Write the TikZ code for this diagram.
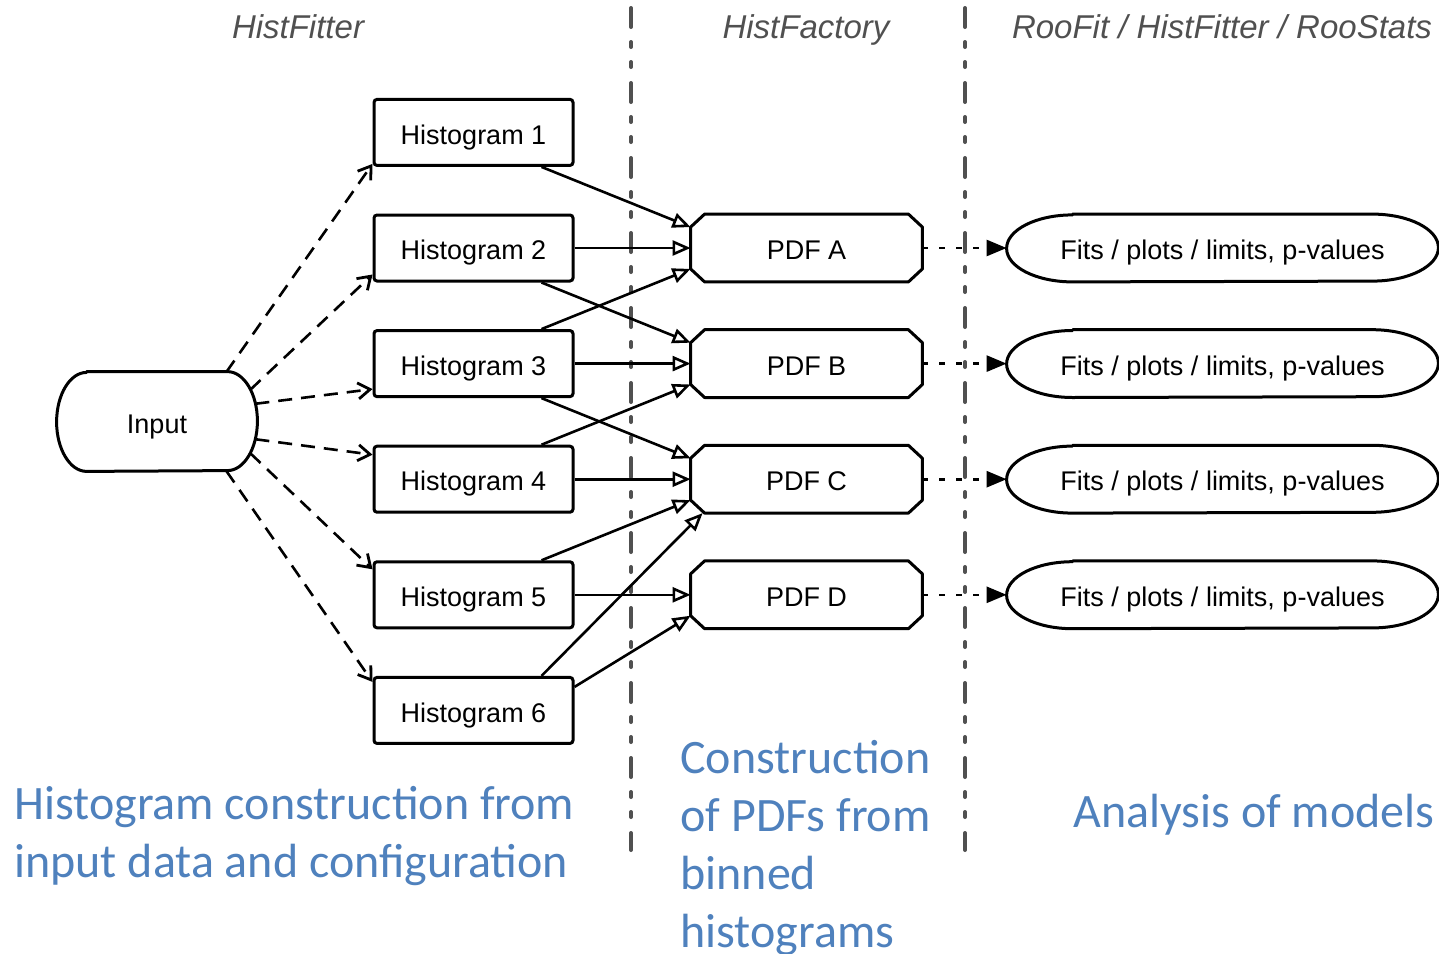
\documentclass[tikz,border=0pt]{standalone}
\usepackage{fontspec}
\setmainfont{Liberation Sans}
\newfontfamily\notefont{Carlito}
\usetikzlibrary{arrows.meta}
\definecolor{notecol}{RGB}{79,129,189}
\definecolor{sepcol}{RGB}{80,80,80}

\begin{document}
\begin{tikzpicture}[x=0.5pt,y=-0.5pt,font=\fontsize{13.5}{16}\selectfont,
  boxtext/.style={inner sep=0pt,text height=11.7pt,text depth=0pt},
  histbox/.style={boxtext,draw,line width=1.5pt,rounded corners=1.5pt,minimum width=99.5pt,minimum height=33pt},
  inbox/.style={boxtext,minimum width=100pt,minimum height=49.5pt},
  pdfbox/.style={boxtext,minimum width=115.5pt,minimum height=33.5pt},
  fitbox/.style={boxtext,minimum width=215.5pt,minimum height=33.5pt},
  outline/.style={line width=1.5pt,line join=round},
  feed/.style={line width=1.3pt,dash pattern=on 7pt off 4.5pt,-{Straight Barb[length=6pt,width=8pt,line width=1.4pt]}},
  build/.style={line width=1.3pt,-{Triangle[open,length=9pt,width=7.5pt]}},
  use/.style={line width=1.3pt,dash pattern=on 3pt off 5.5pt,-{Triangle[length=10pt,width=8pt]}},
  sep/.style={sepcol,line width=2pt,line cap=round,dash pattern=on 9.5pt off 7.5pt on 2.5pt off 7.5pt on 2.5pt off 8pt},
  head/.style={sepcol,font=\fontsize{16.5}{20}\selectfont\itshape,anchor=base},
  note/.style={notecol,font=\notefont\fontsize{24}{29}\selectfont,align=left,inner sep=0pt}]
\pgfmathsetmacro{\pitch}{115.6}
\useasboundingbox (0,0) rectangle (1439,953);

% column separators
\draw[sep] (631,8) -- (631,850);
\draw[sep] (965,8) -- (965,850);

\node[head] (tfit) at (298,38) {HistFitter};
\node[head] (tfac) at (806,38) {HistFactory};
\node[head] (tana) at (1222,38) {RooFit / HistFitter / RooStats};

\node[inbox] (in) at (157,421.5) {Input};
\foreach \i in {1,...,6}
	\node[histbox] (h\i) at (473.5,{132.4+\pitch*(\i-1)}) {Histogram \i};
\foreach \p [count=\k from 0] in {A,B,C,D}
{
	\node[pdfbox] (p\p) at (806.5,{248+\pitch*\k}) {PDF \p};
	\node[fitbox] (f\p) at (1222.5,{248+\pitch*\k}) {Fits / plots / limits, p-values};
}

% outlines of the pills and of the pdf boxes
\foreach \n/\rx/\ry in {in/15pt/24.75pt,fA/33pt/16.75pt,fB/33pt/16.75pt,fC/33pt/16.75pt,fD/33pt/16.75pt}
	\draw[outline] ([xshift=\rx]\n.north west) -- ([xshift=-\rx]\n.north east)
		arc[start angle=90,end angle=-90,x radius=\rx,y radius=\ry]
		-- ([xshift=\rx]\n.south west)
		arc[start angle=270,end angle=90,x radius=\rx,y radius=\ry] -- cycle;
\foreach \p in {pA,pB,pC,pD}
	\draw[outline] ([xshift=7pt]\p.north west) -- ([xshift=-7pt]\p.north east)
		-- ([yshift=-6.5pt]\p.north east) -- ([yshift=6.5pt]\p.south east)
		-- ([xshift=-7pt]\p.south east) -- ([xshift=7pt]\p.south west)
		-- ([yshift=6.5pt]\p.south west) -- ([yshift=-6.5pt]\p.north west) -- cycle;

% input -> histograms
\coordinate (ic) at ([xshift=-15pt]in.east);
\draw[feed] ([shift={(92:15pt and 24.75pt)}]ic) -- ([yshift=1.5pt]h1.south west);
\draw[feed] ([shift={(40:15pt and 24.75pt)}]ic) -- ([yshift=4pt]h2.south west);
\draw[feed] ([shift={(21:15pt and 24.75pt)}]ic) -- ([yshift=4.5pt]h3.south west);
\draw[feed] ([shift={(-21:15pt and 24.75pt)}]ic) -- ([yshift=-5pt]h4.north west);
\draw[feed] ([shift={(-40:15pt and 24.75pt)}]ic) -- ([yshift=-4.5pt]h5.north west);
\draw[feed] ([shift={(-92:15pt and 24.75pt)}]ic) -- ([yshift=-3pt]h6.north west);

% histograms -> pdfs
\foreach \h/\p in {2/A,3/B,4/C,5/D}
	\draw[build] (h\h) -- (p\p);
\draw[build] ([xshift=-16.5pt]h1.south east) -- ([yshift=-6.5pt]pA.north west);
\draw[build] ([xshift=-16.5pt]h2.south east) -- ([yshift=-6.5pt]pB.north west);
\draw[build] ([xshift=-16.5pt]h3.north east) -- ([yshift=6.5pt]pA.south west);
\draw[build] ([xshift=-16.5pt]h3.south east) -- ([yshift=-6.5pt]pC.north west);
\draw[build] ([xshift=-16.5pt]h4.north east) -- ([yshift=6.5pt]pB.south west);
\draw[build] ([xshift=-16.5pt]h5.north east) -- ([yshift=6.5pt]pC.south west);
\draw[build] ([xshift=-16.5pt]h6.north east) -- ([xshift=6pt]pC.south west);
\draw[build] ([yshift=-5.5pt]h6.north east) -- ([yshift=6.5pt]pD.south west);

% pdfs -> results
\foreach \p in {A,B,C,D}
	\draw[use] (p\p) -- (f\p);

\node[note,anchor=north west] (nhist) at (14,786) {Histogram construction from\\input data and configuration};
\node[note,anchor=north west] (npdf) at (680,740) {Construction\\of PDFs from\\binned\\histograms};
\node[note,anchor=base west] (nana) at (1073,827) {Analysis of models};

\end{tikzpicture}
\end{document}
